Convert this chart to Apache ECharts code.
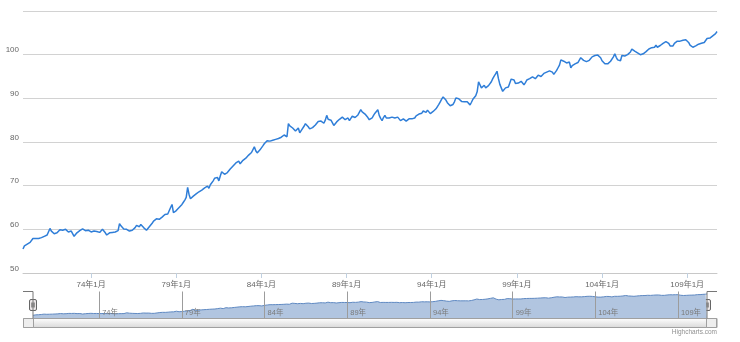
<!DOCTYPE html>
<html>
<head>
<meta charset="utf-8">
<script src="https://cdn.jsdelivr.net/npm/echarts@6/dist/echarts.min.js"></script>
<style>
  html, body { margin: 0; padding: 0; background: #fff; }
  #chart { width: 740px; height: 342px; }
</style>
</head>
<body>
<div id="chart"></div>
<script>
// Monthly index, 民國70年1月 onward
const firstYear = 70;
const tickFromYear = 74;
const tickEveryYears = 5;

const index70s = [
  55.5, 56.2, 56.5, 56.6, 56.8, 57.0, 57.4, 57.9, 58.2, 57.9, 57.8, 57.9,
  58.0, 58.1, 58.2, 58.4, 58.5, 58.7, 58.8, 60.2, 59.6, 59.2, 59.0, 58.8,
  59.2, 59.6, 59.9, 60.1, 59.8, 59.7, 60.0, 59.6, 59.4, 59.5, 59.6, 59.4,
  58.4, 58.8, 59.2, 59.5, 59.7, 59.9, 60.1, 60.0, 59.7, 59.6, 59.8, 59.6,
  59.4, 59.5, 59.6, 59.8, 59.5, 59.2, 59.3, 59.5, 60.0, 59.6, 59.2, 58.7,
  58.9, 59.2, 59.3, 59.3, 59.4, 59.4, 59.5, 59.7, 61.3, 60.8, 60.4, 60.1,
  60.0, 60.0, 59.8, 59.6, 59.6, 59.8, 60.0, 60.4, 60.9, 60.7, 60.6, 61.1,
  60.7, 60.4, 60.0, 59.8, 60.1, 60.6, 61.0, 61.4, 61.9, 62.1, 62.4, 62.4,
  62.3, 62.5, 62.8, 63.1, 63.4, 63.7, 63.5, 63.4, 65.0, 65.7, 63.8, 64.0,
  64.3, 64.6, 65.0, 65.3, 65.7, 66.2, 66.7, 67.3, 69.6, 68.0, 67.0, 67.4
];
const index80s = [
  67.6, 67.9, 68.1, 68.4, 68.6, 68.8, 69.0, 69.3, 69.5, 69.7, 69.9, 69.4,
  70.2, 70.6, 71.1, 71.7, 72.1, 71.9, 71.1, 72.2, 73.2, 72.9, 72.6, 72.8,
  73.0, 73.4, 73.8, 74.1, 74.5, 74.8, 75.2, 75.5, 75.6, 75.0, 75.3, 75.8,
  76.0, 76.3, 76.7, 77.0, 77.3, 77.6, 78.0, 78.9, 78.0, 77.5, 77.4, 78.2,
  78.6, 79.1, 79.6, 80.0, 80.3, 80.1, 80.2, 80.3, 80.4, 80.5, 80.6, 80.7,
  80.8, 80.9, 81.1, 81.3, 81.6, 81.8, 81.2, 84.2, 83.7, 83.4, 83.2, 82.8,
  82.5, 82.7, 83.2, 82.1, 82.6, 83.0, 83.6, 84.2, 84.0, 83.5, 83.0, 83.2,
  83.3, 83.6, 83.9, 84.2, 84.7, 84.9, 84.8, 84.6, 84.3, 85.0, 86.1, 85.2,
  84.9, 85.0, 85.1, 83.8, 84.2, 84.6, 84.9, 85.2, 85.5, 85.7, 85.4, 85.1,
  85.3, 85.5, 84.9, 85.4, 85.9, 85.7, 85.6, 85.9, 86.2, 86.5, 87.4, 86.9
];
const index90s = [
  86.6, 86.4, 86.2, 85.6, 85.1, 85.3, 85.5, 86.1, 86.6, 87.0, 87.4, 86.1,
  85.4, 84.9, 85.6, 86.1, 85.5, 85.4, 85.5, 85.6, 85.7, 85.6, 85.5, 85.4,
  85.7, 85.3, 84.9, 85.1, 85.3, 85.0, 84.8, 85.1, 85.3, 84.9, 85.3, 85.7,
  85.5, 86.0, 86.3, 86.4, 86.2, 86.6, 87.1, 86.9, 86.8, 87.3, 87.0, 86.5,
  86.7, 87.0, 87.3, 87.6, 88.0, 88.6, 89.2, 89.8, 90.3, 90.3, 89.6, 89.0,
  88.6, 88.3, 88.0, 88.6, 89.2, 90.1, 90.0, 89.9, 89.5, 89.3, 89.2, 89.2,
  89.2, 89.2, 89.3, 88.5, 89.1, 89.8, 90.0, 90.6, 91.5, 93.8, 93.5, 92.4,
  92.2, 93.0, 92.4, 92.0, 92.9, 93.3, 93.8, 94.5, 95.1, 95.6, 96.2, 94.5,
  93.2, 92.4, 91.6, 92.0, 92.4, 92.5, 92.6, 93.5, 94.4, 94.3, 94.2, 93.4,
  93.4, 93.5, 93.6, 93.9, 93.6, 93.1, 93.6, 94.2, 94.4, 94.5, 94.7, 94.9
];
const index100s = [
  94.9, 94.5, 94.9, 95.3, 95.1, 95.0, 95.4, 95.7, 95.8, 96.0, 96.2, 96.3,
  96.4, 96.0, 95.5, 95.9, 96.4, 97.0, 97.6, 98.8, 98.6, 98.5, 98.3, 98.1,
  98.2, 98.3, 97.0, 97.5, 97.8, 97.9, 98.0, 98.2, 98.3, 99.3, 98.9, 98.7,
  98.6, 98.4, 98.5, 98.7, 99.1, 99.5, 99.7, 99.8, 99.9, 99.9, 99.5, 99.3,
  98.6, 98.2, 97.9, 97.8, 97.9, 98.2, 98.5, 98.7, 99.5, 100.2, 99.4, 98.8,
  98.4, 98.6, 99.8, 99.8, 99.7, 99.8, 100.0, 100.1, 100.6, 101.3, 101.7, 100.8,
  100.6, 100.4, 100.3, 100.0, 99.8, 100.2, 100.5, 100.7, 101.1, 101.3, 101.5, 101.6,
  101.6, 101.7, 102.2, 101.7, 101.9, 102.1, 102.4, 102.6, 102.8, 103.0, 102.9, 102.6,
  102.0, 101.8, 102.0, 102.6, 102.8, 103.1, 103.4, 103.1, 103.2, 103.3, 103.5, 103.4,
  103.5, 102.8, 102.2, 101.8, 101.7, 101.7, 102.0, 102.2, 102.4, 102.5, 102.6, 102.7,
  102.8, 103.0, 103.7, 103.4, 103.8, 103.9, 104.3, 104.5, 104.8, 105.3
];

const values = [].concat(index70s, index80s, index90s, index100s);
const months = values.map((_, i) =>
  (firstYear + Math.floor(i / 12)) + '年' + (i % 12 + 1) + '月');

// ticks every five years, on January
const isMajor = (label) =>
  /年1月$/.test(label) && (parseInt(label, 10) - tickFromYear) % tickEveryYears === 0;
const majorInterval = (i, v) => isMajor(v);

const FONT = '"Liberation Sans", Arial, "Noto Sans CJK TC", sans-serif';
const LINE = '#2f7ed8';

// navigator / scrollbar geometry
const NAV_L = 33, NAV_R = 707, NAV_T = 291.5, NAV_B = 318.5;
const SB_L = 23, SB_R = 717, SB_T = 318.5, SB_B = 327.5;

function handle(x) {
  return {
    type: 'group', z: 120,
    children: [
      { type: 'rect', shape: { x: x - 3.5, y: 299.5, width: 7, height: 11, r: 1.5 },
        style: { fill: '#ebe7e8', stroke: '#666', lineWidth: 1 } },
      { type: 'line', shape: { x1: x - 1, y1: 302.5, x2: x - 1, y2: 307.5 },
        style: { stroke: '#444', lineWidth: 1 } },
      { type: 'line', shape: { x1: x + 1, y1: 302.5, x2: x + 1, y2: 307.5 },
        style: { stroke: '#444', lineWidth: 1 } }
    ]
  };
}
const sbGrad = new echarts.graphic.LinearGradient(0, 0, 0, 1, [
  { offset: 0, color: '#ffffff' }, { offset: 1, color: '#d8d8d8' }
]);
function arrowButton(x0, dir) {
  const cx = x0 + 5, cy = (SB_T + SB_B) / 2;
  return {
    type: 'group', z: 110,
    children: [
      { type: 'rect', shape: { x: x0 + 0.5, y: SB_T, width: 9.5, height: SB_B - SB_T },
        style: { fill: sbGrad, stroke: '#9a9a9a', lineWidth: 1 } },
      { type: 'polygon',
        shape: { points: dir < 0
          ? [[cx - 1.5, cy], [cx + 1, cy - 2], [cx + 1, cy + 2]]
          : [[cx + 1.5, cy], [cx - 1, cy - 2], [cx - 1, cy + 2]] },
        style: { fill: '#444' } }
    ]
  };
}

const chart = echarts.init(document.getElementById('chart'), null, { renderer: 'canvas' });
chart.setOption({
  animation: false,
  textStyle: { fontFamily: FONT },
  grid: [
    { left: 23, right: 23, top: 11, height: 262 },
    { left: NAV_L, right: 740 - NAV_R, top: NAV_T, height: NAV_B - NAV_T }
  ],
  xAxis: [
    {
      type: 'category', gridIndex: 0, data: months, boundaryGap: false,
      axisLine: { lineStyle: { color: '#c8c8c8' } },
      axisTick: { interval: majorInterval, length: 5, lineStyle: { color: '#c0d0e0' } },
      axisLabel: { interval: majorInterval, color: '#666', fontSize: 8, margin: 8 },
      splitLine: { show: false }
    },
    {
      type: 'category', gridIndex: 1, data: months, boundaryGap: false, z: 10,
      axisLine: { show: false }, axisTick: { show: false },
      axisLabel: {
        interval: majorInterval, inside: true, margin: 2,
        formatter: (v) => parseInt(v, 10) + '年',
        align: 'left', padding: [0, 0, 0, 3], color: '#7a7a7a', fontSize: 7.5
      },
      splitLine: { show: true, interval: majorInterval, lineStyle: { color: '#9c9c9c', width: 1 } }
    }
  ],
  yAxis: [
    {
      type: 'value', gridIndex: 0, min: 50, max: 110, interval: 10,
      axisLine: { show: false }, axisTick: { show: false },
      axisLabel: {
        formatter: (v) => (v === 110 ? '' : v),
        color: '#666', fontSize: 8, margin: 4, verticalAlign: 'bottom', lineHeight: 9
      },
      splitLine: { lineStyle: { color: '#d2d2d2', width: 1 } }
    },
    { type: 'value', gridIndex: 1, min: 48, max: 111, show: false }
  ],
  series: [
    {
      type: 'line', xAxisIndex: 0, yAxisIndex: 0, data: values,
      showSymbol: false, symbol: 'none',
      lineStyle: { color: LINE, width: 1.5 }
    },
    {
      type: 'line', xAxisIndex: 1, yAxisIndex: 1, data: values, z: 1,
      showSymbol: false, symbol: 'none',
      lineStyle: { color: '#5f89c2', width: 1 },
      areaStyle: { color: '#b1c5e0', opacity: 1 }
    }
  ],
  graphic: [
    // scrollbar track and thumb
    { type: 'rect', z: 100, shape: { x: SB_L + 0.5, y: SB_T, width: SB_R - SB_L - 1, height: SB_B - SB_T },
      style: { fill: '#eeeeee', stroke: '#a0a0a0', lineWidth: 1 } },
    { type: 'rect', z: 105, shape: { x: NAV_L + 0.5, y: SB_T, width: NAV_R - NAV_L - 1, height: SB_B - SB_T },
      style: { fill: sbGrad, stroke: '#a0a0a0', lineWidth: 1 } },
    { type: 'group', z: 106, children: [-2, 0, 2].map((d) => ({
      type: 'line', shape: { x1: 370 + d + 0.5, y1: SB_T + 2.5, x2: 370 + d + 0.5, y2: SB_B - 2.5 },
      style: { stroke: '#555', lineWidth: 1 } })) },
    arrowButton(SB_L, -1),
    arrowButton(SB_R - 10, 1),
    // navigator outline
    { type: 'polyline', z: 110, shape: { points: [[SB_L, NAV_T], [NAV_L, NAV_T], [NAV_L, SB_T]] },
      style: { stroke: '#777', lineWidth: 1, fill: null } },
    { type: 'polyline', z: 110, shape: { points: [[NAV_R, SB_T], [NAV_R, NAV_T], [SB_R, NAV_T]] },
      style: { stroke: '#777', lineWidth: 1, fill: null } },
    handle(NAV_L),
    handle(NAV_R),
    // credits
    { type: 'text', z: 110, right: 23, top: 329,
      style: { text: 'Highcharts.com', fill: '#909090', fontSize: 6.5, fontFamily: FONT } }
  ]
});
</script>
</body>
</html>
